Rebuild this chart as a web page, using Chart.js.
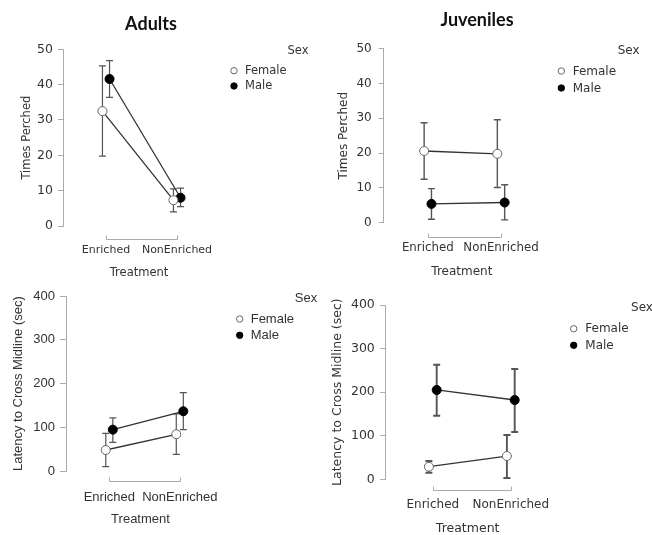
<!DOCTYPE html>
<html><head><meta charset="utf-8">
<script src="https://cdn.jsdelivr.net/npm/chart.js@4.4.1/dist/chart.umd.min.js"></script>
<style>
html,body{margin:0;padding:0;background:#fff;}
#wrap{position:relative;width:652px;height:535px;overflow:hidden;background:#fff;}
canvas{position:absolute;left:0;top:0;}
.ttl{position:absolute;font-family:Lato,"Open Sans",sans-serif;font-weight:700;font-size:18px;color:#111;transform:translate(-50%,-50%);white-space:nowrap;}
</style></head><body>
<div id="wrap">
<canvas id="c1" width="652" height="535"></canvas>
<canvas id="c2" width="652" height="535"></canvas>
<canvas id="c3" width="652" height="535"></canvas>
<canvas id="c4" width="652" height="535"></canvas>
<div class="ttl" style="left:151px;top:23px">Adults</div>
<div class="ttl" style="left:477px;top:19px">Juveniles</div>
</div>
<script>
// ---------------- data ----------------
const categories = ['Enriched', 'NonEnriched'];
const sexes = ['Female', 'Male'];
const perchTicks = [0, 10, 20, 30, 40, 50];
const latencyTicks = [0, 100, 200, 300, 400];

// Adults - Times Perched
const adultPerchFemale   = [32.5, 7.3];
const adultPerchFemaleLo = [19.8, 4.0];
const adultPerchFemaleHi = [45.3, 10.5];
const adultPerchMale     = [41.6, 8.0];
const adultPerchMaleLo   = [36.4, 5.5];
const adultPerchMaleHi   = [46.8, 10.7];

// Juveniles - Times Perched
const juvPerchFemale   = [20.6, 19.8];
const juvPerchFemaleLo = [12.5, 10.1];
const juvPerchFemaleHi = [28.7, 29.6];
const juvPerchMale     = [5.4, 5.8];
const juvPerchMaleLo   = [1.0, 0.8];
const juvPerchMaleHi   = [9.8, 10.9];

// Adults - Latency to Cross Midline
const adultLatFemale   = [48.6, 84.5];
const adultLatFemaleLo = [10.6, 38.8];
const adultLatFemaleHi = [86.7, 131];
const adultLatMale     = [95, 137];
const adultLatMaleLo   = [66, 95];
const adultLatMaleHi   = [122, 179.5];

// Juveniles - Latency to Cross Midline
const juvLatFemale   = [28.9, 53.4];
const juvLatFemaleLo = [15, 3];
const juvLatFemaleHi = [42, 101.6];
const juvLatMale     = [205, 182];
const juvLatMaleLo   = [146, 108.5];
const juvLatMaleHi   = [263, 253];

// ---------------- layout / style ----------------
const H = 535;
const DODGE = 0.05;
const panels = [
  { id:'c1', yTitle:'Times Perched', ticks:perchTicks,
    f:[adultPerchFemale, adultPerchFemaleLo, adultPerchFemaleHi],
    m:[adultPerchMale, adultPerchMaleLo, adultPerchMaleHi],
    L:{axisX:63, top:49.3, bottom:226, right:215, cat1:106, cat2:177, tickLen:5, tickPad:5,
       yTitleX:26.7, xLabelY:250, xTitleY:273, bracketOff:13,
       sexX:298, sexY:51, mkX:234, rows:[70.7, 86], txtX:245},
    font:'DejaVu Sans', fs:11, yfs:12.5, tfs:11.5, lfs:11.5, ew:1.2 },
  { id:'c2', yTitle:'Times Perched', ticks:perchTicks,
    f:[juvPerchFemale, juvPerchFemaleLo, juvPerchFemaleHi],
    m:[juvPerchMale, juvPerchMaleLo, juvPerchMaleHi],
    L:{axisX:383.7, top:48.7, bottom:222.7, right:540, cat1:427.8, cat2:501, tickLen:5, tickPad:7,
       yTitleX:343.7, xLabelY:248, xTitleY:271.7, bracketOff:14.6,
       sexX:628.7, sexY:51, mkX:561.3, rows:[71, 88], txtX:572.7},
    font:'DejaVu Sans', fs:11.8, yfs:12, tfs:12, lfs:12, ew:1.4 },
  { id:'c3', yTitle:'Latency to Cross Midline (sec)', ticks:latencyTicks,
    f:[adultLatFemale, adultLatFemaleLo, adultLatFemaleHi],
    m:[adultLatMale, adultLatMaleLo, adultLatMaleHi],
    L:{axisX:66, top:296, bottom:471.3, right:215, cat1:109.3, cat2:179.8, tickLen:6, tickPad:5,
       yTitleX:18.3, xLabelY:497.3, xTitleY:519.3, bracketOff:9.7,
       sexX:306, sexY:298.3, mkX:239.7, rows:[319, 335.3], txtX:250.7},
    font:'Liberation Sans', fs:13, yfs:13, tfs:13, lfs:13, ew:1.2 },
  { id:'c4', yTitle:'Latency to Cross Midline (sec)', ticks:latencyTicks,
    f:[juvLatFemale, juvLatFemaleLo, juvLatFemaleHi],
    m:[juvLatMale, juvLatMaleLo, juvLatMaleHi],
    L:{axisX:385.3, top:305, bottom:479.3, right:550, cat1:432.8, cat2:510.8, tickLen:5, tickPad:5.5,
       yTitleX:337.7, xLabelY:505, xTitleY:529, bracketOff:11,
       sexX:642, sexY:307.7, mkX:573.7, rows:[328.7, 345.3], txtX:585.3},
    font:'DejaVu Sans', fs:12, yfs:12.5, tfs:12.5, lfs:12, ew:1.9 }
];

const TXT = '#333';
const AXIS = '#aaa';

const errorBarPlugin = {
  id:'errorBars',
  beforeDatasetsDraw(chart, args, o){
    const ctx = chart.ctx, ys = chart.scales.y;
    ctx.save();
    ctx.strokeStyle = '#555'; ctx.lineWidth = o.width;
    chart.data.datasets.forEach((ds, di) => {
      const meta = chart.getDatasetMeta(di);
      meta.data.forEach((pt, j) => {
        const x = pt.x, y1 = ys.getPixelForValue(ds.errLo[j]), y2 = ys.getPixelForValue(ds.errHi[j]);
        ctx.beginPath();
        ctx.moveTo(x, y1); ctx.lineTo(x, y2);
        ctx.moveTo(x-3.5, y1); ctx.lineTo(x+3.5, y1);
        ctx.moveTo(x-3.5, y2); ctx.lineTo(x+3.5, y2);
        ctx.stroke();
      });
    });
    ctx.restore();
  }
};

const bracketPlugin = {
  id:'bracket',
  afterDraw(chart, args, o){
    const ctx = chart.ctx, xs = chart.scales.x;
    const y = Math.round(chart.chartArea.bottom + o.off) + 0.5;
    const a = Math.round(xs.getPixelForValue(1)) + 0.5, b = Math.round(xs.getPixelForValue(categories.length)) + 0.5;
    ctx.save();
    ctx.strokeStyle = AXIS; ctx.lineWidth = 1;
    ctx.beginPath();
    ctx.moveTo(a, y-4); ctx.lineTo(a, y); ctx.lineTo(b, y); ctx.lineTo(b, y-4);
    ctx.stroke();
    ctx.restore();
  }
};

const legendPlugin = {
  id:'sexLegend',
  afterDraw(chart, args, o){
    const ctx = chart.ctx;
    ctx.save();
    ctx.font = o.fs + 'px "' + o.font + '"';
    ctx.fillStyle = TXT;
    ctx.textBaseline = 'middle';
    ctx.textAlign = 'center';
    ctx.fillText('Sex', o.sexX, o.sexY);
    ctx.textAlign = 'left';
    chart.data.datasets.forEach((ds, i) => {
      const y = o.rows[i];
      ctx.beginPath();
      ctx.arc(o.mkX, y, 3.2, 0, Math.PI*2);
      ctx.fillStyle = ds.pointBackgroundColor; ctx.fill();
      ctx.strokeStyle = ds.pointBorderColor; ctx.lineWidth = 1; ctx.stroke();
      ctx.fillStyle = TXT;
      ctx.fillText(ds.label, o.txtX, y + 0.5);
    });
    ctx.restore();
  }
};

panels.forEach(p => {
  const L = p.L;
  const unit = L.cat2 - L.cat1;
  const xmin = 1 - (L.cat1 - L.axisX) / unit;
  const xmax = 2 + (L.right - L.cat2) / unit;
  const lh = p.fs * 1.2, tlh = p.tfs * 1.2;
  const mk = (vals, lo, hi, sign, label, fill, border) => ({
    label, data: vals.map((v, i) => ({x: i + 1 + sign * DODGE, y: v})),
    errLo: lo, errHi: hi,
    borderColor:'#333', borderWidth:1.3, tension:0,
    pointRadius:4.5, pointHoverRadius:4.5, pointBackgroundColor:fill, pointBorderColor:border, pointBorderWidth:1
  });
  new Chart(document.getElementById(p.id), {
    type:'line',
    data:{ datasets:[
      mk(p.f[0], p.f[1], p.f[2], -1, sexes[0], '#ffffff', '#666'),
      mk(p.m[0], p.m[1], p.m[2], 1, sexes[1], '#000000', '#000')
    ]},
    options:{
      responsive:false, animation:false, devicePixelRatio:1,
      events:[],
      layout:{ autoPadding:false, padding:{ left:0, top:L.top, right:652 - L.right, bottom:0 } },
      plugins:{
        legend:{display:false}, tooltip:{enabled:false}, title:{display:false},
        errorBars:{ width:p.ew },
        bracket:{ off:L.bracketOff },
        sexLegend:{ font:p.font, fs:p.lfs, sexX:L.sexX, sexY:L.sexY, mkX:L.mkX, rows:L.rows, txtX:L.txtX }
      },
      scales:{
        x:{
          type:'linear', min:xmin, max:xmax,
          afterBuildTicks: s => { s.ticks = categories.map((c, i) => ({value: i + 1})); },
          afterFit: s => { s.height = H - L.bottom; },
          grid:{display:false, drawTicks:false},
          border:{display:false},
          ticks:{ callback: v => categories[Math.round(v) - 1], padding: L.xLabelY - L.bottom - lh/2,
                  font:{family:p.font, size:p.fs}, color:TXT, maxRotation:0, autoSkip:false },
          title:{ display:true, text:'Treatment', font:{family:p.font, size:p.tfs}, color:TXT,
                  padding:{top:0, bottom: H - L.xTitleY - tlh/2} }
        },
        y:{
          type:'linear', min:p.ticks[0], max:p.ticks[p.ticks.length-1],
          afterBuildTicks: s => { s.ticks = p.ticks.map(v => ({value:v})); },
          afterFit: s => { s.width = L.axisX; },
          grid:{ display:true, drawOnChartArea:false, drawTicks:true, tickLength:L.tickLen, color:AXIS },
          border:{ display:true, color:AXIS, width:1 },
          ticks:{ padding:L.tickPad, font:{family:p.font, size:p.yfs}, color:TXT },
          title:{ display:true, text:p.yTitle, font:{family:p.font, size:p.tfs}, color:TXT,
                  padding:{top: L.yTitleX - tlh/2, bottom:0} }
        }
      }
    },
    plugins:[errorBarPlugin, bracketPlugin, legendPlugin]
  });
});
</script>
</body></html>
